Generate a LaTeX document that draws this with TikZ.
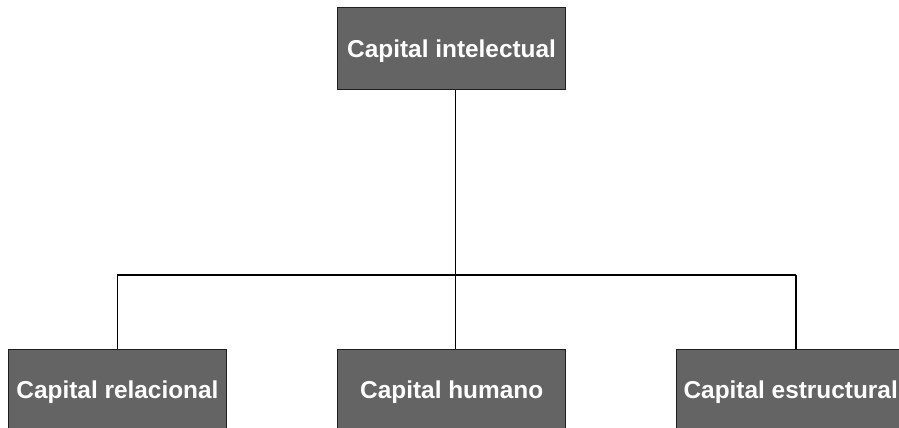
\documentclass[tikz,border=0pt]{standalone}
\usepackage{fontspec}
\setmainfont{Liberation Sans}
\definecolor{boxgray}{RGB}{100,100,100}
\definecolor{edge}{RGB}{30,30,30}
\begin{document}
\begin{tikzpicture}[x=1pt,y=-1pt,
  cbox/.style={draw=edge,line width=1pt,fill=boxgray,text=white,
    font=\fontsize{24.4}{28}\selectfont\bfseries,inner sep=0pt,text depth=0pt,
    minimum width=228pt,minimum height=82pt,anchor=center},
  link/.style={draw=black,line width=1.1pt}]
\useasboundingbox (0,0) rectangle (899,428);
\fill[white] (0,0) rectangle (899,428);
\node[cbox] (top) at (451.6,48.5) {Capital intelectual};
\node[cbox,minimum width=218.4pt] (left) at (117.5,390) {Capital relacional};
\node[cbox] (mid) at (451.7,390) {Capital humano};
\node[cbox] (right) at (790.7,390) {Capital estructural};
\coordinate (j) at (455.7,275);
\coordinate (bl) at (117.3,275);
\coordinate (br) at (796,275);
\draw[link] (top.south -| j) -- (j);
\draw[link] (bl) -- (br);
\draw[link] (bl) -- (bl |- left.north);
\draw[link] (j) -- (j |- mid.north);
\draw[link] (br) -- (br |- right.north);
\end{tikzpicture}
\end{document}
